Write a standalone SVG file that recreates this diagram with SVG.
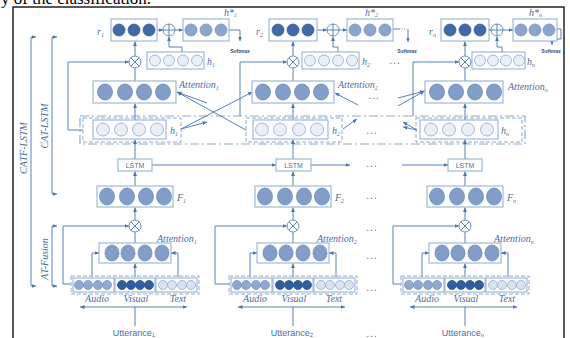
<svg xmlns="http://www.w3.org/2000/svg" width="570" height="338" viewBox="0 0 570 338">
<defs>
<marker id="a" viewBox="0 0 6 6" refX="6" refY="3" markerWidth="4.5" markerHeight="4.5" orient="auto-start-reverse"><path d="M0,0.4 L6,3 L0,5.6z" fill="#4d73ab"/></marker>
<style>
.ln{fill:none;stroke:#5b80b7;stroke-width:1}
.ar{fill:none;stroke:#5b80b7;stroke-width:1;marker-end:url(#a)}
.bx{fill:#fff;stroke:#8eaad2;stroke-width:1}
.ds{fill:none;stroke:#8eaad2;stroke-width:1;stroke-dasharray:4 2}
.dd{fill:none;stroke:#8eaad2;stroke-width:1.2;stroke-dasharray:9 3 2 3}
.cr{fill:#3f6aa6;stroke:#35609c;stroke-width:.8}
.cm{fill:#8ba6cd;stroke:#7793c0;stroke-width:.8}
.ca{fill:#819ec9;stroke:#6d8dbe;stroke-width:.8}
.ch{fill:#e9eff8;stroke:#8ea8cf;stroke-width:.8}
.cv{fill:#2f5e9e;stroke:#2a5590;stroke-width:.8}
.cu{fill:#8fa9ce;stroke:#7a96c2;stroke-width:.8}
.ct{fill:#d8e2f0;stroke:#93abd0;stroke-width:.8}
.op{fill:#fff;stroke:#6d8fc0;stroke-width:1}
.lb{font-family:"Liberation Serif",serif;font-style:italic;fill:#4d6e9f;font-size:10px}
.sa{font-family:"Liberation Sans",sans-serif;fill:#4d6e9f;font-size:9px}
.ls{font-family:"Liberation Sans",sans-serif;fill:#4d6e9f;font-size:7px;text-anchor:middle}
.sm{font-family:"Liberation Sans",sans-serif;font-weight:bold;fill:#2e4f80;font-size:5px;text-anchor:middle}
.dt{font-family:"Liberation Sans",sans-serif;fill:#4d6e9f;font-size:10px;text-anchor:middle;letter-spacing:1px}
.sb{font-size:6px}
</style>
</defs>
<rect width="570" height="338" fill="#fff"/>
<text x="1" y="4" font-family="Liberation Serif,serif" font-size="17" fill="#000">y of the classification.</text>
<rect x="13" y="7" width="551" height="340" fill="none" stroke="#000" stroke-width="1.3"/>

<!-- left brackets -->
<g id="brackets">
<path class="ln" d="M31,37 V286"/><path class="ar" d="M31,37 H36"/><path class="ar" d="M31,286 H36"/>
<path class="ln" d="M52,37 V194"/><path class="ar" d="M52,37 H57"/><path class="ar" d="M52,194 H57"/>
<path class="ln" d="M52,226 V286"/><path class="ar" d="M52,226 H57"/><path class="ar" d="M52,286 H57"/>
<text class="lb" transform="translate(27,148) rotate(-90)" text-anchor="middle">CATF-LSTM</text>
<text class="lb" transform="translate(48,126) rotate(-90)" text-anchor="middle">CAT-LSTM</text>
<text class="lb" transform="translate(48,259) rotate(-90)" text-anchor="middle">AT-Fusion</text>
</g>

<!-- band -->
<g id="band">
<rect class="dd" x="80" y="116" width="445" height="28"/>
<rect class="ds" x="83" y="118" width="98" height="24"/>
<rect class="ds" x="246" y="118" width="96" height="24"/>
<rect class="ds" x="416" y="118" width="106" height="24"/>
</g>

<!-- connectors -->
<g id="connectors">
<path class="ar" d="M157,30 H163"/><path class="ar" d="M175,30 H183"/>
<path class="ar" d="M182,52 V47 H169 V36.5"/>
<path class="ar" d="M135,56 V41.5"/>
<path class="ln" d="M135,81 V68"/>
<path class="ar" d="M83,130 H68 V62 H129"/>
<path class="ar" d="M135,120 V103.5"/>
<path class="ar" d="M229,30 H240 V41"/>
<path class="ar" d="M317,30 H327"/><path class="ar" d="M339,30 H347"/>
<path class="ar" d="M338,52 V47 H333 V36.5"/>
<path class="ar" d="M293,56 V41.5"/>
<path class="ln" d="M293,81 V68"/>
<path class="ar" d="M240,116 V62 H287"/>
<path class="ar" d="M293,120 V103.5"/>
<path class="ln" d="M393,29 H400"/><path class="ln" d="M401.5,29 H407" stroke-dasharray="1 1.5"/>
<path class="ar" d="M408,29 V42"/>
<path class="ar" d="M489,30 H491"/><path class="ar" d="M503,30 H513"/>
<path class="ar" d="M502,52 V47 H497 V36.5"/>
<path class="ar" d="M465,56 V41.5"/>
<path class="ln" d="M465,81 V68"/>
<path class="ar" d="M413,116 V62 H459"/>
<path class="ar" d="M465,120 V103.5"/>
<path class="ar" d="M557,29 H561 V39 H552 V45"/>
<path class="ar" d="M181,129 L252.5,92"/>
<path class="ar" d="M181,129 L207,122"/>
<path class="ar" d="M207,103 L177,92"/>
<path class="ar" d="M246,130 L177,92"/>
<path class="ar" d="M358,105 L335,93"/>
<path class="ar" d="M343,129 L357,119"/>
<path class="ar" d="M398,98 L424.5,91"/>
<path class="ar" d="M398,106 L424.5,91"/>
<path class="ar" d="M417,130 L403,122"/>
<path class="ar" d="M417,130 L403,127"/>
<path class="ar" d="M135,159 V139.5"/><path class="ar" d="M293,159 V139.5"/><path class="ar" d="M465,159 V139.5"/>
<path class="ar" d="M152,165 H276"/><path class="ar" d="M311,165 H350"/><path class="ar" d="M402,165 H448"/>
<path class="ar" d="M135,186 V171.5"/><path class="ar" d="M293,186 V171.5"/><path class="ar" d="M465,186 V171.5"/>
<path class="ar" d="M135,220 V207.5"/><path class="ar" d="M293,220 V207.5"/><path class="ar" d="M465,220 V207.5"/>
<path class="ln" d="M135,243 V232"/><path class="ln" d="M293,243 V232"/><path class="ln" d="M465,243 V232"/>
<path class="ar" d="M71,284 H63 V226 H129"/>
<path class="ar" d="M229,284 H215 V226 H287"/>
<path class="ar" d="M401,284 H393 V226 H459"/>
<path class="ar" d="M135,277 V263.5"/><path class="ar" d="M293,277 V263.5"/><path class="ar" d="M465,277 V263.5"/>
<path class="ar" d="M92,277 V253 H99"/><path class="ar" d="M178,277 V253 H171"/>
<path class="ar" d="M250,277 V253 H257"/><path class="ar" d="M336,277 V253 H329"/>
<path class="ar" d="M422,277 V253 H429"/><path class="ar" d="M508,277 V253 H501"/>
<path class="ar" d="M80,307 H187" marker-start="url(#a)"/>
<path class="ar" d="M238,307 H345" marker-start="url(#a)"/>
<path class="ar" d="M410,307 H517" marker-start="url(#a)"/>
<path class="ln" d="M135,307 V326"/><path class="ln" d="M293,307 V326"/><path class="ln" d="M465,307 V326"/>
</g>

<!-- column 1 -->
<g id="r1"><rect class="bx" x="111" y="19" width="46" height="22"/>
<circle class="cr" cx="119" cy="30" r="6"/><circle class="cr" cx="134" cy="30" r="6"/><circle class="cr" cx="149" cy="30" r="6"/>
<text class="lb" x="97" y="35" font-size="11">r<tspan class="sb" dy="1.5">1</tspan></text></g>
<g id="oplus1"><circle class="op" cx="169" cy="30" r="6"/><path class="ln" d="M163,30 H175 M169,24 V36"/></g>
<g id="hstar1"><rect class="bx" x="183" y="19" width="46" height="22"/>
<circle class="cm" cx="191" cy="30" r="6"/><circle class="cm" cx="206" cy="30" r="6"/><circle class="cm" cx="221" cy="30" r="6"/>
<text class="lb" x="224" y="16" font-size="9">h*<tspan class="sb" dy="1">1</tspan></text>
<text class="sm" x="240" y="53">Softmax</text></g>
<g id="h1top"><rect class="bx" x="147" y="52" width="57" height="17"/>
<circle class="ch" cx="155" cy="60.5" r="5.5"/><circle class="ch" cx="169" cy="60.5" r="5.5"/><circle class="ch" cx="183" cy="60.5" r="5.5"/><circle class="ch" cx="197" cy="60.5" r="5.5"/>
<text class="lb" x="207" y="65">h<tspan class="sb" dy="1.5">1</tspan></text></g>
<g id="otimes1"><circle class="op" cx="135" cy="62" r="6"/><path class="ln" d="M130.8,57.8 L139.2,66.2 M139.2,57.8 L130.8,66.2"/></g>
<g id="att1"><rect class="bx" x="93" y="81" width="83" height="22"/>
<ellipse class="ca" cx="105" cy="92" rx="7.5" ry="8"/><ellipse class="ca" cx="125" cy="92" rx="7.5" ry="8"/><ellipse class="ca" cx="144" cy="92" rx="7.5" ry="8"/><ellipse class="ca" cx="163" cy="92" rx="7.5" ry="8"/>
<text class="lb" x="179" y="88" font-size="9.5">Attention<tspan class="sb" dy="1.5">1</tspan></text></g>
<g id="h1"><rect class="bx" x="93" y="120" width="73" height="19"/>
<circle class="ch" cx="103" cy="129.5" r="6.5"/><circle class="ch" cx="121" cy="129.5" r="6.5"/><circle class="ch" cx="139" cy="129.5" r="6.5"/><circle class="ch" cx="157" cy="129.5" r="6.5"/>
<text class="lb" x="170" y="134">h<tspan class="sb" dy="1.5">1</tspan></text></g>
<g id="lstm1"><rect class="bx" x="118" y="159" width="34" height="12"/><text class="ls" x="135" y="167.5">LSTM</text></g>
<g id="f1"><rect class="bx" x="97" y="186" width="76" height="21"/>
<ellipse class="ca" cx="107" cy="196.5" rx="7.5" ry="8.5"/><ellipse class="ca" cx="127" cy="196.5" rx="7.5" ry="8.5"/><ellipse class="ca" cx="146" cy="196.5" rx="7.5" ry="8.5"/><ellipse class="ca" cx="164" cy="196.5" rx="7.5" ry="8.5"/>
<text class="lb" x="177" y="201">F<tspan class="sb" dy="1.5">1</tspan></text></g>
<g id="otimes1b"><circle class="op" cx="135" cy="226" r="6"/><path class="ln" d="M130.8,221.8 L139.2,230.2 M139.2,221.8 L130.8,230.2"/></g>
<g id="att1b"><rect class="bx" x="99" y="243" width="72" height="20"/>
<ellipse class="ca" cx="112" cy="253" rx="7" ry="8"/><ellipse class="ca" cx="128" cy="253" rx="7" ry="8"/><ellipse class="ca" cx="145" cy="253" rx="7" ry="8"/><ellipse class="ca" cx="162" cy="253" rx="7" ry="8"/>
<text class="lb" x="157" y="242" font-size="9">Attention<tspan class="sb" dy="1.5">1</tspan></text></g>
<g id="mod1"><rect class="ds" x="71" y="276" width="128" height="18"/>
<rect class="bx" x="73" y="278" width="41" height="14"/><rect class="bx" x="115" y="278" width="40" height="14"/><rect class="bx" x="156" y="278" width="41" height="14"/>
<circle class="cu" cx="79" cy="285" r="4.5"/><circle class="cu" cx="88" cy="285" r="4.5"/><circle class="cu" cx="98" cy="285" r="4.5"/><circle class="cu" cx="107" cy="285" r="4.5"/>
<circle class="cv" cx="122" cy="285" r="4.5"/><circle class="cv" cx="131" cy="285" r="4.5"/><circle class="cv" cx="140" cy="285" r="4.5"/><circle class="cv" cx="149" cy="285" r="4.5"/>
<circle class="ct" cx="163" cy="285" r="4.5"/><circle class="ct" cx="172" cy="285" r="4.5"/><circle class="ct" cx="182" cy="285" r="4.5"/><circle class="ct" cx="191" cy="285" r="4.5"/>
<text class="lb" x="97" y="302" text-anchor="middle" font-size="9.5">Audio</text><text class="lb" x="136" y="302" text-anchor="middle" font-size="9.5">Visual</text><text class="lb" x="178" y="302" text-anchor="middle" font-size="9.5">Text</text></g>
<g id="utt1"><text class="sa" x="134" y="336" text-anchor="middle">Utterance<tspan class="sb" dy="1">1</tspan></text></g>

<!-- column 2 -->
<g id="r2"><rect class="bx" x="269" y="19" width="48" height="22"/>
<circle class="cr" cx="278" cy="30" r="6"/><circle class="cr" cx="293" cy="30" r="6"/><circle class="cr" cx="308" cy="30" r="6"/>
<text class="lb" x="256" y="35" font-size="11">r<tspan class="sb" dy="1.5">2</tspan></text></g>
<g id="oplus2"><circle class="op" cx="333" cy="30" r="6"/><path class="ln" d="M327,30 H339 M333,24 V36"/></g>
<g id="hstar2"><rect class="bx" x="347" y="19" width="46" height="22"/>
<circle class="cm" cx="355" cy="30" r="6"/><circle class="cm" cx="370" cy="30" r="6"/><circle class="cm" cx="385" cy="30" r="6"/>
<text class="lb" x="365" y="16" font-size="9">h*<tspan class="sb" dy="1">2</tspan></text>
<text class="sm" x="407" y="53">Softmax</text></g>
<g id="h2top"><rect class="bx" x="302" y="52" width="57" height="17"/>
<circle class="ch" cx="310" cy="60.5" r="5.5"/><circle class="ch" cx="324" cy="60.5" r="5.5"/><circle class="ch" cx="338" cy="60.5" r="5.5"/><circle class="ch" cx="352" cy="60.5" r="5.5"/>
<text class="lb" x="362" y="65">h<tspan class="sb" dy="1.5">2</tspan></text></g>
<g id="otimes2"><circle class="op" cx="293" cy="62" r="6"/><path class="ln" d="M288.8,57.8 L297.2,66.2 M297.2,57.8 L288.8,66.2"/></g>
<g id="att2"><rect class="bx" x="252" y="81" width="82" height="22"/>
<ellipse class="ca" cx="263" cy="92" rx="7.5" ry="8"/><ellipse class="ca" cx="283" cy="92" rx="7.5" ry="8"/><ellipse class="ca" cx="302" cy="92" rx="7.5" ry="8"/><ellipse class="ca" cx="321" cy="92" rx="7.5" ry="8"/>
<text class="lb" x="338" y="88" font-size="9.5">Attention<tspan class="sb" dy="1.5">2</tspan></text></g>
<g id="h2"><rect class="bx" x="253" y="120" width="75" height="19"/>
<circle class="ch" cx="262" cy="129.5" r="6.5"/><circle class="ch" cx="280" cy="129.5" r="6.5"/><circle class="ch" cx="299" cy="129.5" r="6.5"/><circle class="ch" cx="317" cy="129.5" r="6.5"/>
<text class="lb" x="332" y="134">h<tspan class="sb" dy="1.5">2</tspan></text></g>
<g id="lstm2"><rect class="bx" x="276" y="159" width="35" height="12"/><text class="ls" x="293.5" y="167.5">LSTM</text></g>
<g id="f2"><rect class="bx" x="255" y="186" width="76" height="21"/>
<ellipse class="ca" cx="265" cy="196.5" rx="7.5" ry="8.5"/><ellipse class="ca" cx="285" cy="196.5" rx="7.5" ry="8.5"/><ellipse class="ca" cx="304" cy="196.5" rx="7.5" ry="8.5"/><ellipse class="ca" cx="322" cy="196.5" rx="7.5" ry="8.5"/>
<text class="lb" x="335" y="201">F<tspan class="sb" dy="1.5">2</tspan></text></g>
<g id="otimes2b"><circle class="op" cx="293" cy="226" r="6"/><path class="ln" d="M288.8,221.8 L297.2,230.2 M297.2,221.8 L288.8,230.2"/></g>
<g id="att2b"><rect class="bx" x="257" y="243" width="72" height="20"/>
<ellipse class="ca" cx="270" cy="253" rx="7" ry="8"/><ellipse class="ca" cx="286" cy="253" rx="7" ry="8"/><ellipse class="ca" cx="303" cy="253" rx="7" ry="8"/><ellipse class="ca" cx="320" cy="253" rx="7" ry="8"/>
<text class="lb" x="317" y="242" font-size="9">Attention<tspan class="sb" dy="1.5">2</tspan></text></g>
<g id="mod2"><rect class="ds" x="229" y="276" width="128" height="18"/>
<rect class="bx" x="231" y="278" width="41" height="14"/><rect class="bx" x="273" y="278" width="40" height="14"/><rect class="bx" x="314" y="278" width="41" height="14"/>
<circle class="cu" cx="237" cy="285" r="4.5"/><circle class="cu" cx="246" cy="285" r="4.5"/><circle class="cu" cx="256" cy="285" r="4.5"/><circle class="cu" cx="265" cy="285" r="4.5"/>
<circle class="cv" cx="280" cy="285" r="4.5"/><circle class="cv" cx="289" cy="285" r="4.5"/><circle class="cv" cx="298" cy="285" r="4.5"/><circle class="cv" cx="307" cy="285" r="4.5"/>
<circle class="ct" cx="321" cy="285" r="4.5"/><circle class="ct" cx="330" cy="285" r="4.5"/><circle class="ct" cx="340" cy="285" r="4.5"/><circle class="ct" cx="349" cy="285" r="4.5"/>
<text class="lb" x="255" y="302" text-anchor="middle" font-size="9.5">Audio</text><text class="lb" x="294" y="302" text-anchor="middle" font-size="9.5">Visual</text><text class="lb" x="334" y="302" text-anchor="middle" font-size="9.5">Text</text></g>
<g id="utt2"><text class="sa" x="292" y="336" text-anchor="middle">Utterance<tspan class="sb" dy="1">2</tspan></text></g>

<!-- column n -->
<g id="rn"><rect class="bx" x="441" y="19" width="48" height="22"/>
<circle class="cr" cx="450" cy="30" r="6"/><circle class="cr" cx="465" cy="30" r="6"/><circle class="cr" cx="480" cy="30" r="6"/>
<text class="lb" x="429" y="35" font-size="11">r<tspan class="sb" dy="1.5">n</tspan></text></g>
<g id="oplusn"><circle class="op" cx="497" cy="30" r="6"/><path class="ln" d="M491,30 H503 M497,24 V36"/></g>
<g id="hstarn"><rect class="bx" x="513" y="19" width="44" height="22"/>
<circle class="cm" cx="521" cy="30" r="6"/><circle class="cm" cx="535" cy="30" r="6"/><circle class="cm" cx="549" cy="30" r="6"/>
<text class="lb" x="529" y="16" font-size="9">h*<tspan class="sb" dy="1">n</tspan></text>
<text class="sm" x="551" y="53">Softmax</text></g>
<g id="hntop"><rect class="bx" x="472" y="52" width="53" height="17"/>
<circle class="ch" cx="480" cy="60.5" r="5.5"/><circle class="ch" cx="493" cy="60.5" r="5.5"/><circle class="ch" cx="506" cy="60.5" r="5.5"/><circle class="ch" cx="519" cy="60.5" r="5.5"/>
<text class="lb" x="527" y="65">h<tspan class="sb" dy="1.5">n</tspan></text></g>
<g id="otimesn"><circle class="op" cx="465" cy="62" r="6"/><path class="ln" d="M460.8,57.8 L469.2,66.2 M469.2,57.8 L460.8,66.2"/></g>
<g id="attn"><rect class="bx" x="425" y="81" width="78" height="22"/>
<ellipse class="ca" cx="437" cy="92" rx="7.5" ry="8"/><ellipse class="ca" cx="456" cy="92" rx="7.5" ry="8"/><ellipse class="ca" cx="475" cy="92" rx="7.5" ry="8"/><ellipse class="ca" cx="494" cy="92" rx="7.5" ry="8"/>
<text class="lb" x="508" y="90" font-size="9.5">Attention<tspan class="sb" dy="1.5">n</tspan></text></g>
<g id="hn"><rect class="bx" x="420" y="120" width="78" height="19"/>
<circle class="ch" cx="431" cy="129.5" r="6.5"/><circle class="ch" cx="449" cy="129.5" r="6.5"/><circle class="ch" cx="468" cy="129.5" r="6.5"/><circle class="ch" cx="487" cy="129.5" r="6.5"/>
<text class="lb" x="501" y="134">h<tspan class="sb" dy="1.5">n</tspan></text></g>
<g id="lstmn"><rect class="bx" x="448" y="159" width="34" height="12"/><text class="ls" x="465" y="167.5">LSTM</text></g>
<g id="fn"><rect class="bx" x="427" y="186" width="76" height="21"/>
<ellipse class="ca" cx="437" cy="196.5" rx="7.5" ry="8.5"/><ellipse class="ca" cx="457" cy="196.5" rx="7.5" ry="8.5"/><ellipse class="ca" cx="476" cy="196.5" rx="7.5" ry="8.5"/><ellipse class="ca" cx="494" cy="196.5" rx="7.5" ry="8.5"/>
<text class="lb" x="507" y="201">F<tspan class="sb" dy="1.5">n</tspan></text></g>
<g id="otimesnb"><circle class="op" cx="465" cy="226" r="6"/><path class="ln" d="M460.8,221.8 L469.2,230.2 M469.2,221.8 L460.8,230.2"/></g>
<g id="attnb"><rect class="bx" x="429" y="243" width="72" height="20"/>
<ellipse class="ca" cx="442" cy="253" rx="7" ry="8"/><ellipse class="ca" cx="458" cy="253" rx="7" ry="8"/><ellipse class="ca" cx="475" cy="253" rx="7" ry="8"/><ellipse class="ca" cx="492" cy="253" rx="7" ry="8"/>
<text class="lb" x="494" y="242" font-size="9">Attention<tspan class="sb" dy="1.5">n</tspan></text></g>
<g id="modn"><rect class="ds" x="401" y="276" width="128" height="18"/>
<rect class="bx" x="403" y="278" width="41" height="14"/><rect class="bx" x="445" y="278" width="40" height="14"/><rect class="bx" x="486" y="278" width="41" height="14"/>
<circle class="cu" cx="409" cy="285" r="4.5"/><circle class="cu" cx="418" cy="285" r="4.5"/><circle class="cu" cx="428" cy="285" r="4.5"/><circle class="cu" cx="437" cy="285" r="4.5"/>
<circle class="cv" cx="452" cy="285" r="4.5"/><circle class="cv" cx="461" cy="285" r="4.5"/><circle class="cv" cx="470" cy="285" r="4.5"/><circle class="cv" cx="479" cy="285" r="4.5"/>
<circle class="ct" cx="493" cy="285" r="4.5"/><circle class="ct" cx="502" cy="285" r="4.5"/><circle class="ct" cx="512" cy="285" r="4.5"/><circle class="ct" cx="521" cy="285" r="4.5"/>
<text class="lb" x="427" y="302" text-anchor="middle" font-size="9.5">Audio</text><text class="lb" x="466" y="302" text-anchor="middle" font-size="9.5">Visual</text><text class="lb" x="507" y="302" text-anchor="middle" font-size="9.5">Text</text></g>
<g id="uttn"><text class="sa" x="463" y="336" text-anchor="middle">Utterance<tspan class="sb" dy="1">n</tspan></text></g>

<g id="dots">
<text class="dt" x="395" y="64">...</text>
<text class="dt" x="374" y="99">...</text>
<text class="dt" x="372" y="134">...</text>
<text class="dt" x="372" y="167">...</text>
<text class="dt" x="372" y="199">...</text>
<text class="dt" x="372" y="231">...</text>
<text class="dt" x="372" y="259">...</text>
<text class="dt" x="372" y="291">...</text>
<text class="dt" x="372" y="337">...</text>
</g>
</svg>
